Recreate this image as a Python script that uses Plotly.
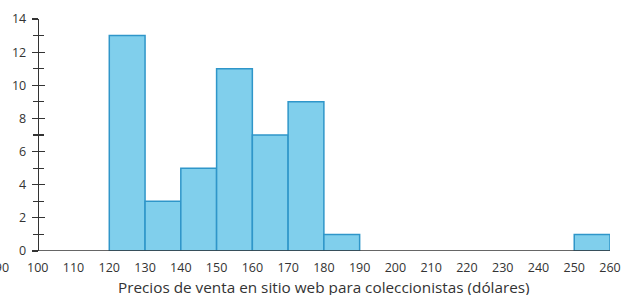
import plotly.graph_objects as go

# Data
bin_starts = [120, 130, 140, 150, 160, 170, 180, 190, 200, 210, 220, 230, 240, 250]
counts = [13, 3, 5, 11, 7, 9, 1, 0, 0, 0, 0, 0, 0, 1]
bin_width = 10
x_ticks = list(range(90, 261, 10))
y_ticks = list(range(0, 15, 2))
x_title = "Precios de venta en sitio web para coleccionistas (dólares)"

xs = [s + bin_width / 2 for s, c in zip(bin_starts, counts) if c > 0]
ys = [c for c in counts if c > 0]

AX = "#333333"
FONT = "Open Sans"
x_min, x_max = 90, 260
y_axis_at = 100

fig = go.Figure()
fig.add_trace(go.Bar(
    x=xs, y=ys, width=bin_width,
    marker=dict(color="#80CFEC", line=dict(color="#2F96C9", width=1.5)),
    hoverinfo="skip", showlegend=False,
))
# invisible trace for second (tick-crossing) y axis
fig.add_trace(go.Scatter(x=[x_min], y=[0], yaxis="y2", mode="markers",
                         marker=dict(opacity=0), showlegend=False, hoverinfo="skip"))

pos = (y_axis_at - x_min) / (x_max - x_min)

fig.add_shape(type="line", x0=y_axis_at, x1=x_max, y0=0, y1=0, xref="x", yref="y",
              line=dict(color=AX, width=1.5), layer="above")

fig.add_annotation(
    text=x_title, x=(y_axis_at + x_max) / 2, xref="x", y=0, yref="paper",
    yanchor="middle", yshift=-36, showarrow=False,
    font=dict(family=FONT, size=15.3, color=AX),
)

fig.update_layout(
    width=622, height=295,
    margin=dict(l=2, r=12, t=19, b=44),
    paper_bgcolor="white", plot_bgcolor="white",
    font=dict(family=FONT, size=12.5, color=AX),
    bargap=0,
    xaxis=dict(
        range=[x_min, x_max], tickmode="array", tickvals=x_ticks,
        ticks="outside", ticklen=5, tickcolor="rgba(0,0,0,0)",
        showline=False, showgrid=False, zeroline=False,
        automargin=False, ticklabeloverflow="allow",
        tickfont=dict(size=12.5, color=AX),
    ),
    yaxis=dict(
        range=[0, 14], tickmode="array", tickvals=y_ticks,
        anchor="free", position=pos, automargin=False,
        showline=True, linecolor=AX, linewidth=1.5,
        ticks="outside", ticklen=6, tickwidth=1.2, tickcolor=AX,
        minor=dict(ticks="outside", dtick=1, ticklen=5, tickwidth=1.2, tickcolor=AX),
        showgrid=False, zeroline=False,
        ticklabelstandoff=3,
        tickfont=dict(size=12.5, color=AX),
    ),
    yaxis2=dict(
        range=[0, 14], tickmode="array", tickvals=y_ticks[1:],
        overlaying="y", anchor="free", position=pos, side="left",
        automargin=False,
        showline=False, showticklabels=False,
        ticks="inside", ticklen=6, tickwidth=1.2, tickcolor=AX,
        minor=dict(ticks="inside", dtick=1, ticklen=5, tickwidth=1.2, tickcolor=AX),
        showgrid=False, zeroline=False,
    ),
)

fig.write_html(
    "out.html",
    config={"displayModeBar": False, "staticPlot": True},
    post_script="document.body.style.margin='0';document.body.style.overflow='hidden';",
)
